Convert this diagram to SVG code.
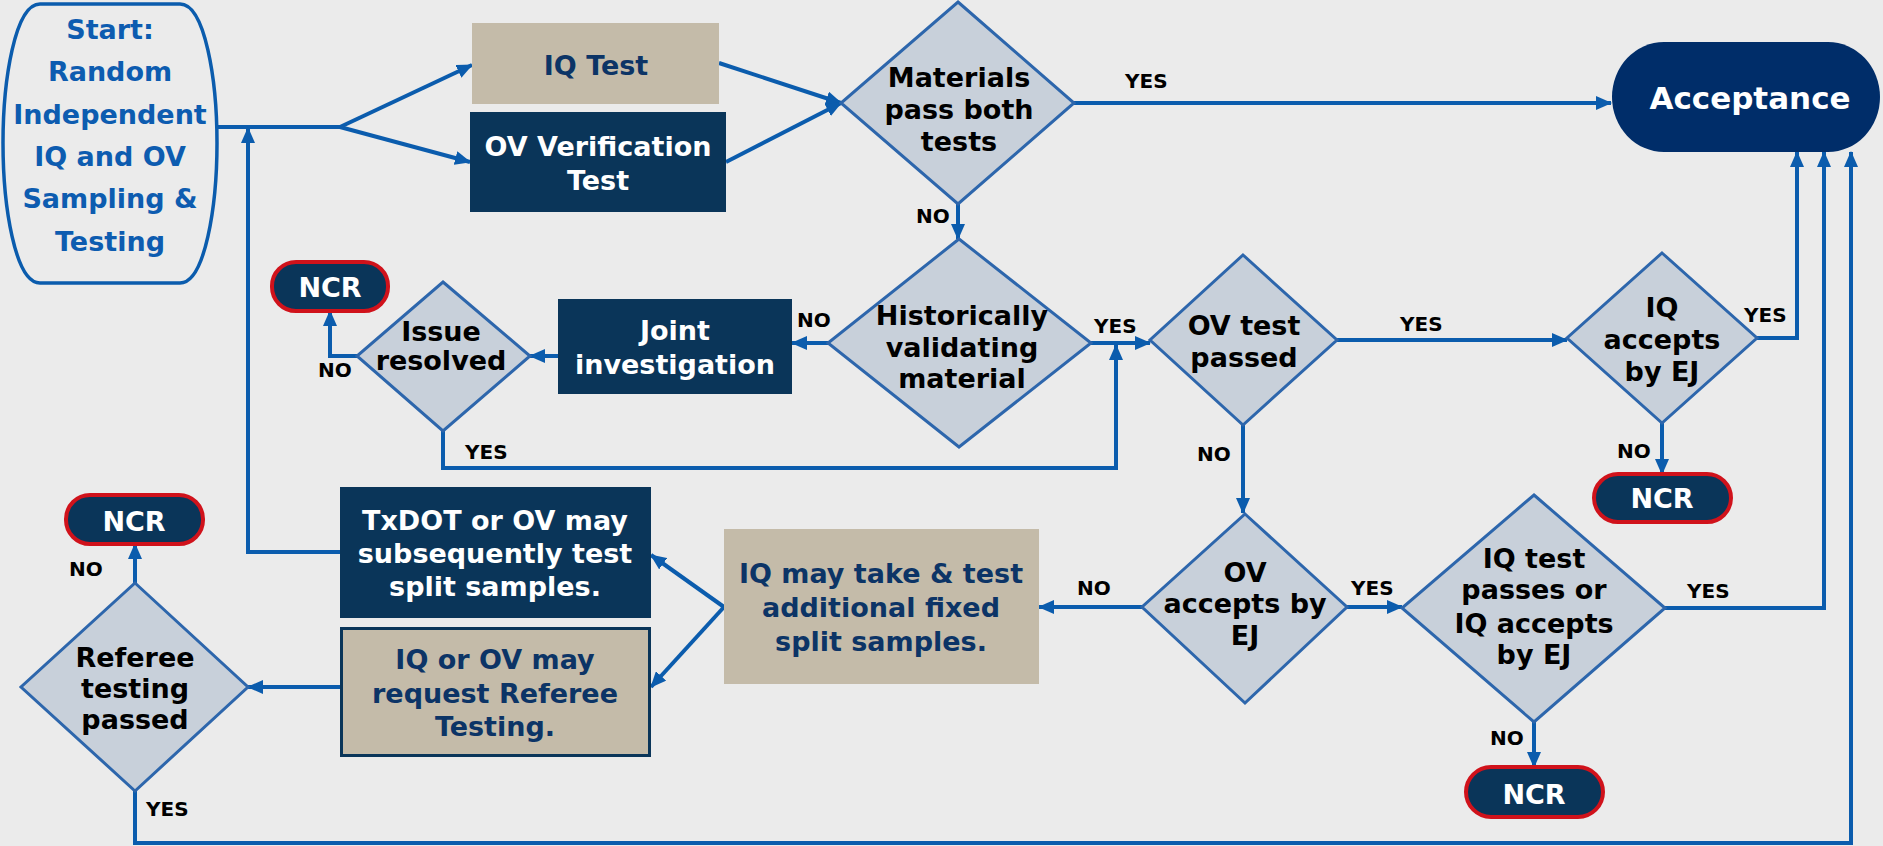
<svg xmlns="http://www.w3.org/2000/svg" width="1883" height="846" viewBox="0 0 1883 846">
<defs>
<marker id="ah" markerUnits="userSpaceOnUse" markerWidth="16" markerHeight="14" refX="15" refY="7" orient="auto">
<path d="M0,0 L16,7 L0,14 Z" fill="#0b5cad"/>
</marker>
<style>
.bg{fill:#ebebeb}
.c{fill:none;stroke:#0b5cad;stroke-width:4;marker-end:url(#ah)}
.cn{fill:none;stroke:#0b5cad;stroke-width:4}
.dia{fill:#c8d0da;stroke:#2d66ac;stroke-width:3}
.navy{fill:#0a3559}
.tan{fill:#c4bba9}
.ncr{fill:#0a3559;stroke:#d0121b;stroke-width:4}
text{font-family:"DejaVu Sans",Verdana,sans-serif;font-weight:bold;text-anchor:middle}
.t{font-size:27px}
.k{fill:#000}
.w{fill:#fff}
.b{fill:#0c3466}
.s{fill:#0d5cb0}
.lb{font-size:20px;fill:#000;text-anchor:start}
</style>
</defs>
<rect class="bg" x="0" y="0" width="1883" height="846"/>

<g id="connectors">
<path class="cn" d="M217,127 H340"/>
<path class="c" d="M340,127 L472,65"/>
<path class="c" d="M340,127 L470,162"/>
<path class="c" d="M719,63 L841,103"/>
<path class="c" d="M726,162 L841,103"/>
<path class="c" d="M1074,103 H1611"/>
<path class="c" d="M958,204 V239"/>
<path class="c" d="M828,343 H792"/>
<path class="c" d="M1091,343 H1150"/>
<path class="c" d="M558,356 H530"/>
<path class="c" d="M357,356 H330 V311"/>
<path class="c" d="M443,431 V468 H1116 V345"/>
<path class="c" d="M1337,340 H1567"/>
<path class="c" d="M1757,338 H1797 V152"/>
<path class="c" d="M1662,423 V474"/>
<path class="c" d="M1243,425 V513"/>
<path class="c" d="M1142,607 H1039"/>
<path class="c" d="M1347,607 H1402"/>
<path class="c" d="M1665,608 H1824 V152"/>
<path class="c" d="M1534,722 V767"/>
<path class="c" d="M724,607 L651,555"/>
<path class="c" d="M724,607 L651,687"/>
<path class="c" d="M340,552 H248 V128"/>
<path class="c" d="M340,687 H248"/>
<path class="c" d="M135,583 V544"/>
<path class="c" d="M135,791 V843 H1851 V152"/>
</g>

<g id="labels">
<text class="lb" x="1125" y="88">YES</text>
<text class="lb" x="916" y="223">NO</text>
<text class="lb" x="797" y="327">NO</text>
<text class="lb" x="1094" y="333">YES</text>
<text class="lb" x="1400" y="331">YES</text>
<text class="lb" x="1744" y="322">YES</text>
<text class="lb" x="1617" y="458">NO</text>
<text class="lb" x="1197" y="461">NO</text>
<text class="lb" x="318" y="377">NO</text>
<text class="lb" x="465" y="459">YES</text>
<text class="lb" x="69" y="576">NO</text>
<text class="lb" x="146" y="816">YES</text>
<text class="lb" x="1077" y="595">NO</text>
<text class="lb" x="1351" y="595">YES</text>
<text class="lb" x="1687" y="598">YES</text>
<text class="lb" x="1490" y="745">NO</text>
</g>

<g id="start">
<path d="M40,4 H180 C205,4 217,80 217,143 C217,206 205,283 180,283 H40 C15,283 3,206 3,143 C3,80 15,4 40,4 Z" fill="#ebebeb" stroke="#0b5cad" stroke-width="3.5"/>
<text class="t s" x="110" y="39">Start:</text>
<text class="t s" x="110" y="81">Random</text>
<text class="t s" x="110" y="124">Independent</text>
<text class="t s" x="110" y="166">IQ and OV</text>
<text class="t s" x="110" y="208">Sampling &amp;</text>
<text class="t s" x="110" y="251">Testing</text>
</g>

<g id="iq-test">
<rect class="tan" x="472" y="23" width="247" height="81"/>
<text class="t b" x="596" y="75">IQ Test</text>
</g>

<g id="ov-test">
<rect class="navy" x="470" y="112" width="256" height="100"/>
<text class="t w" x="598" y="156">OV Verification</text>
<text class="t w" x="598" y="190">Test</text>
</g>

<g id="materials">
<polygon class="dia" points="958,2 1074,103 958,204 841,103"/>
<text class="t k" x="959" y="87">Materials</text>
<text class="t k" x="959" y="119">pass both</text>
<text class="t k" x="959" y="151">tests</text>
</g>

<g id="acceptance">
<rect x="1612" y="42" width="268" height="110" rx="52" ry="55" fill="#002d69"/>
<text x="1750" y="109" font-size="31" fill="#fff">Acceptance</text>
</g>

<g id="historically">
<polygon class="dia" points="959,239 1091,343 959,447 828,343"/>
<text class="t k" x="962" y="325">Historically</text>
<text class="t k" x="962" y="357">validating</text>
<text class="t k" x="962" y="388">material</text>
</g>

<g id="joint">
<rect class="navy" x="558" y="299" width="234" height="95"/>
<text class="t w" x="675" y="340">Joint</text>
<text class="t w" x="675" y="374">investigation</text>
</g>

<g id="issue">
<polygon class="dia" points="443,282 530,356 443,431 357,356"/>
<text class="t k" x="441" y="341">Issue</text>
<text class="t k" x="441" y="370">resolved</text>
</g>

<g id="ncr1">
<rect class="ncr" x="272" y="262" width="116" height="49" rx="24"/>
<text class="t w" x="330" y="297">NCR</text>
</g>

<g id="ov-passed">
<polygon class="dia" points="1243,255 1337,340 1243,425 1150,340"/>
<text class="t k" x="1244" y="335">OV test</text>
<text class="t k" x="1244" y="367">passed</text>
</g>

<g id="iq-accepts">
<polygon class="dia" points="1662,253 1757,338 1662,423 1567,338"/>
<text class="t k" x="1662" y="317">IQ</text>
<text class="t k" x="1662" y="349">accepts</text>
<text class="t k" x="1662" y="381">by EJ</text>
</g>

<g id="ncr2">
<rect class="ncr" x="1594" y="474" width="137" height="48" rx="24"/>
<text class="t w" x="1662" y="508">NCR</text>
</g>

<g id="ov-accepts">
<polygon class="dia" points="1245,514 1347,607 1245,703 1142,607"/>
<text class="t k" x="1245" y="582">OV</text>
<text class="t k" x="1245" y="613">accepts by</text>
<text class="t k" x="1245" y="645">EJ</text>
</g>

<g id="iq-passes">
<polygon class="dia" points="1534,495 1665,608 1534,722 1402,608"/>
<text class="t k" x="1534" y="568">IQ test</text>
<text class="t k" x="1534" y="599">passes or</text>
<text class="t k" x="1534" y="633">IQ accepts</text>
<text class="t k" x="1534" y="664">by EJ</text>
</g>

<g id="ncr3">
<rect class="ncr" x="1466" y="767" width="137" height="50" rx="25"/>
<text class="t w" x="1534" y="804">NCR</text>
</g>

<g id="iq-may">
<rect class="tan" x="724" y="529" width="315" height="155"/>
<text class="t b" x="881" y="583">IQ may take &amp; test</text>
<text class="t b" x="881" y="617">additional fixed</text>
<text class="t b" x="881" y="651">split samples.</text>
</g>

<g id="txdot">
<rect class="navy" x="340" y="487" width="311" height="131"/>
<text class="t w" x="495" y="530">TxDOT or OV may</text>
<text class="t w" x="495" y="563">subsequently test</text>
<text class="t w" x="495" y="596">split samples.</text>
</g>

<g id="referee-request">
<rect class="tan" x="341.5" y="628.5" width="308" height="127" stroke="#0a3559" stroke-width="3"/>
<text class="t b" x="495" y="669">IQ or OV may</text>
<text class="t b" x="495" y="703">request Referee</text>
<text class="t b" x="495" y="736">Testing.</text>
</g>

<g id="referee">
<polygon class="dia" points="135,583 248,687 135,791 21,687"/>
<text class="t k" x="135" y="667">Referee</text>
<text class="t k" x="135" y="698">testing</text>
<text class="t k" x="135" y="729">passed</text>
</g>

<g id="ncr4">
<rect class="ncr" x="66" y="495" width="137" height="49" rx="24"/>
<text class="t w" x="134" y="531">NCR</text>
</g>
</svg>
